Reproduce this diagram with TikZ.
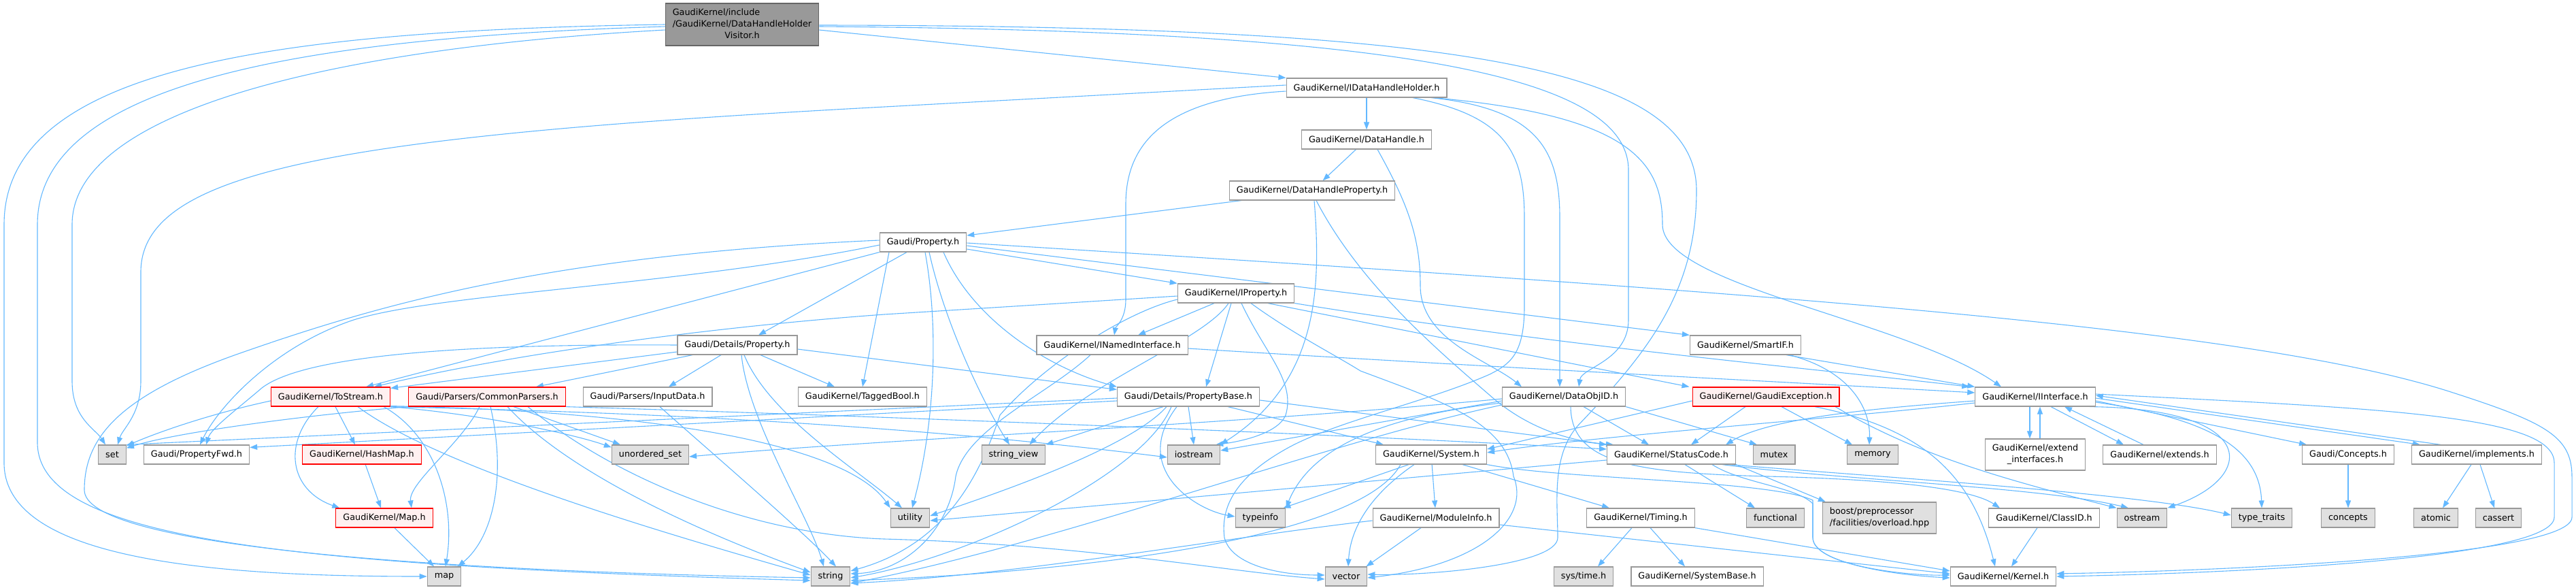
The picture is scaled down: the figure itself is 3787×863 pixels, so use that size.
\documentclass[tikz,border=0pt]{standalone}
\usepackage{fontspec}
\newfontfamily\doxyfont{DejaVu Sans}
\usetikzlibrary{arrows.meta,backgrounds}
\definecolor{edgeblue}{HTML}{63B8FF}
\definecolor{nodegray}{HTML}{999999}
\definecolor{sysfill}{HTML}{E0E0E0}
\definecolor{redfill}{HTML}{FFF0F0}
\definecolor{rootfill}{HTML}{999999}
\definecolor{rootdraw}{HTML}{666666}
\newcommand{\lastcentered}[2]{\begin{tabular}{@{}l@{}}#1\\\multicolumn{1}{@{}c@{}}{#2}\end{tabular}}
\begin{document}
\begin{tikzpicture}[
    x=1pt, y=-1pt,
    every node/.style={font=\doxyfont\fontsize{12.8}{17}\selectfont},
    hdr/.style={rectangle, draw=nodegray, fill=white, line width=1.2pt,
                minimum height=28pt, inner xsep=10.5pt, inner ysep=3pt},
    syshdr/.style={hdr, fill=sysfill},
    redhdr/.style={hdr, draw=red, fill=redfill},
    roothdr/.style={hdr, draw=rootdraw, fill=rootfill},
    tall/.style={inner ysep=6pt},
    dep/.style={-{Triangle[length=11pt,width=8pt]}, draw=edgeblue, line width=1.1pt},
]
    \useasboundingbox (0,0) rectangle (3787,863);
    \node[roothdr, inner ysep=5.5pt] (root) at (1091,36) {\begin{tabular}{@{}l@{}}GaudiKernel/include\\/GaudiKernel/DataHandleHolder\\\multicolumn{1}{@{}c@{}}{Visitor.h}\end{tabular}};
    \node[hdr] (idhh) at (2009,129) {GaudiKernel/IDataHandleHolder.h};
    \node[hdr] (dhandle) at (2009,205) {GaudiKernel/DataHandle.h};
    \node[hdr] (dhprop) at (1929,280) {GaudiKernel/DataHandleProperty.h};
    \node[hdr] (prop) at (1357,356) {Gaudi/Property.h};
    \node[hdr] (iprop) at (1817,431) {GaudiKernel/IProperty.h};
    \node[hdr] (detprop) at (1084,507) {Gaudi/Details/Property.h};
    \node[hdr] (inamed) at (1635,507) {GaudiKernel/INamedInterface.h};
    \node[hdr] (smartif) at (2566,507) {GaudiKernel/SmartIF.h};
    \node[redhdr] (tostream) at (486,583) {GaudiKernel/ToStream.h};
    \node[redhdr] (parsers) at (716,583) {Gaudi/Parsers/CommonParsers.h};
    \node[hdr] (inputdata) at (952,583) {Gaudi/Parsers/InputData.h};
    \node[hdr] (taggedbool) at (1268,583) {GaudiKernel/TaggedBool.h};
    \node[hdr] (propbase) at (1747,583) {Gaudi/Details/PropertyBase.h};
    \node[hdr] (dataobjid) at (2299,583) {GaudiKernel/DataObjID.h};
    \node[redhdr] (gexcept) at (2596,583) {GaudiKernel/GaudiException.h};
    \node[hdr] (iiface) at (2992,583) {GaudiKernel/IInterface.h};
    \node[syshdr] (set) at (165,668) {set};
    \node[hdr] (propfwd) at (289,668) {Gaudi/PropertyFwd.h};
    \node[redhdr] (hashmap) at (532,668) {GaudiKernel/HashMap.h};
    \node[syshdr] (uset) at (956,668) {unordered\_set};
    \node[syshdr] (strview) at (1490,668) {string\_view};
    \node[syshdr] (iostream) at (1755,668) {iostream};
    \node[hdr] (system) at (2104,668) {GaudiKernel/System.h};
    \node[hdr] (status) at (2457,668) {GaudiKernel/StatusCode.h};
    \node[syshdr] (mutex) at (2608,668) {mutex};
    \node[syshdr] (memory) at (2753,668) {memory};
    \node[hdr, tall] (extiface) at (2992,668) {\lastcentered{GaudiKernel/extend}{\_interfaces.h}};
    \node[hdr] (extends) at (3175,668) {GaudiKernel/extends.h};
    \node[hdr] (gconcepts) at (3452,668) {Gaudi/Concepts.h};
    \node[hdr] (implements) at (3641,668) {GaudiKernel/implements.h};
    \node[redhdr] (gmap) at (565,761) {GaudiKernel/Map.h};
    \node[syshdr] (utility) at (1338,761) {utility};
    \node[syshdr] (typeinfo) at (1853,761) {typeinfo};
    \node[hdr] (modinfo) at (2111,761) {GaudiKernel/ModuleInfo.h};
    \node[hdr] (timing) at (2412,761) {GaudiKernel/Timing.h};
    \node[syshdr] (functional) at (2610,761) {functional};
    \node[syshdr, tall] (boost) at (2763,761) {\lastcentered{boost/preprocessor}{/facilities/overload.hpp}};
    \node[hdr] (classid) at (3005,761) {GaudiKernel/ClassID.h};
    \node[syshdr] (ostream) at (3149,761) {ostream};
    \node[syshdr] (typetraits) at (3325,761) {type\_traits};
    \node[syshdr] (concepts) at (3452,761) {concepts};
    \node[syshdr] (atomic) at (3581,761) {atomic};
    \node[syshdr] (cassert) at (3673,761) {cassert};
    \node[syshdr] (map) at (653,847) {map};
    \node[syshdr] (string) at (1221,847) {string};
    \node[syshdr] (vector) at (1979,847) {vector};
    \node[syshdr] (systime) at (2328,847) {sys/time.h};
    \node[hdr] (sysbase) at (2495,847) {GaudiKernel/SystemBase.h};
    \node[hdr] (kernel) at (2945,847) {GaudiKernel/Kernel.h};
    \begin{pgfonlayer}{background}
    \draw[dep] ([yshift=-8pt]root.east) -- (idhh.north west);
    \draw[dep] ([yshift=-3pt]root.east) .. controls (2050,45) and (2394,110) .. (2394,250) -- (2394,470) .. controls (2394,530) and (2325,540) .. ([xshift=22pt]dataobjid.north);
    \draw[dep] ([yshift=-1pt]root.east) .. controls (2150,38) and (2494,100) .. (2494,280) .. controls (2494,430) and (2420,520) .. (2320,625) .. controls (2280,670) and (2290,740) .. (2290,790) .. controls (2290,830) and (2100,846) .. ([yshift=3pt]vector.east);
    \draw[dep] (root.west) .. controls (400,45) and (6,100) .. (6,330) -- (6,680) .. controls (6,820) and (300,847) .. (map.west);
    \draw[dep] ([yshift=-3pt]root.west) .. controls (450,55) and (55,120) .. (55,330) -- (55,650) .. controls (55,790) and (400,830) .. ([yshift=-6pt]string.west);
    \draw[dep] ([yshift=-8pt]root.west) .. controls (500,70) and (106,160) .. (106,330) -- (106,560) .. controls (106,615) and (140,630) .. ([xshift=-10pt]set.north);
    \draw[dep] (idhh) -- (dhandle);
    \draw[dep] ([yshift=-5pt]idhh.west) .. controls (1700,145) and (1655,220) .. (1655,300) -- (1655,440) .. controls (1655,470) and (1640,480) .. ([xshift=3pt]inamed.north);
    \draw[dep] ([yshift=4pt]idhh.west) -- (1300,157) .. controls (500,200) and (207,250) .. (207,400) -- (207,560) .. controls (207,610) and (180,630) .. ([xshift=8pt]set.north);
    \draw[dep] ([xshift=68pt]idhh.south) .. controls (2210,170) and (2241,220) .. (2241,320) -- (2241,450) .. controls (2241,520) and (2220,535) .. (2190,550) .. controls (2100,590) and (1960,620) .. (1890,660) .. controls (1810,705) and (1795,750) .. (1800,790) .. controls (1810,830) and (1880,845) .. ([yshift=2pt]vector.west);
    \draw[dep] ([xshift=95pt]idhh.south) .. controls (2260,160) and (2293,220) .. (2293,320) -- ([xshift=-6pt]dataobjid.north);
    \draw[dep] ([xshift=99pt]idhh.south) .. controls (2400,170) and (2444,240) .. (2444,330) .. controls (2444,420) and (2800,470) .. ([xshift=-50pt]iiface.north);
    \draw[dep] (dhandle) -- (dhprop);
    \draw[dep] ([xshift=16pt]dhandle.south) .. controls (2070,300) and (2088,350) .. (2088,420) .. controls (2088,500) and (2190,530) .. ([xshift=-62pt]dataobjid.north);
    \draw[dep] ([xshift=-104pt]dhprop.south) -- ([yshift=10pt]prop.east);
    \draw[dep] ([xshift=3pt]dhprop.south) .. controls (1942,420) and (1940,560) .. (iostream.north east);
    \draw[dep] ([xshift=6pt]dhprop.south) .. controls (2000,420) and (2120,520) .. (2195,585) .. controls (2260,640) and (2330,650) .. ([xshift=10pt]status.north west);
    \draw[dep] ([yshift=-10pt]prop.east) -- (iprop.north west);
    \draw[dep] ([yshift=-5pt]prop.east) -- (smartif.north west);
    \draw[dep] ([yshift=-1pt]prop.east) .. controls (2600,430) and (3300,480) .. (3600,575) .. controls (3740,620) and (3781,640) .. (3781,700) -- (3781,760) .. controls (3781,815) and (3300,838) .. ([yshift=4pt]kernel.east);
    \draw[dep] ([xshift=-24pt]prop.south) -- ([xshift=31pt]detprop.north);
    \draw[dep] (prop.south west) -- ([xshift=-36pt]tostream.north east);
    \draw[dep] ([xshift=-50pt]prop.south) -- (taggedbool.north);
    \draw[dep] ([xshift=30pt]prop.south) .. controls (1430,470) and (1540,540) .. (propbase.north west);
    \draw[dep] ([xshift=3pt]prop.south) .. controls (1380,480) and (1375,620) .. ([xshift=3pt]utility.north);
    \draw[dep] ([xshift=9pt]prop.south) .. controls (1390,480) and (1450,600) .. ([xshift=-6pt]strview.north);
    \draw[dep] ([yshift=-4pt]prop.west) .. controls (1000,420) and (650,430) .. (520,470) .. controls (400,510) and (320,600) .. ([xshift=5pt]propfwd.north);
    \draw[dep] ([yshift=3pt]prop.west) .. controls (800,375) and (550,450) .. (350,520) .. controls (180,580) and (124,640) .. (124,720) .. controls (124,800) and (600,838) .. ([yshift=-2pt]string.west);
    \draw[dep] ([xshift=-32pt]iprop.south) -- ([xshift=38pt]inamed.north);
    \draw[dep] ([xshift=-7pt]iprop.south) -- ([xshift=26pt]propbase.north);
    \draw[dep] ([yshift=-4pt]iprop.west) -- (1300,462) .. controls (1050,480) and (750,520) .. ([xshift=-24pt]tostream.north east);
    \draw[dep] ([yshift=-9pt]iprop.west) .. controls (1650,460) and (1530,540) .. (1470,610) .. controls (1440,700) and (1390,800) .. ([yshift=8pt]string.east);
    \draw[dep] ([xshift=8pt]iprop.south) .. controls (1860,520) and (1905,560) .. (1890,610) .. controls (1880,635) and (1830,648) .. ([xshift=-7pt]iostream.north east);
    \draw[dep] ([xshift=22pt]iprop.south) .. controls (1900,490) and (1960,520) .. (2000,545) .. controls (2120,590) and (2215,620) .. (2225,700) .. controls (2250,760) and (2180,830) .. ([yshift=-2pt]vector.east);
    \draw[dep] ([xshift=47pt]iprop.south) -- ([xshift=-4pt]gexcept.north west);
    \draw[dep] (iprop.south east) .. controls (2300,510) and (2700,545) .. ([xshift=-8pt]iiface.north west);
    \draw[dep] ([xshift=-11pt]iprop.south) .. controls (1770,500) and (1600,560) .. ([xshift=-24pt]strview.north east);
    \draw[dep] ([yshift=-5pt]inamed.east) .. controls (2200,540) and (2600,560) .. ([yshift=6pt]iiface.west);
    \draw[dep] ([xshift=-32pt]inamed.south) .. controls (1540,580) and (1420,630) .. (1405,700) .. controls (1395,780) and (1330,840) .. ([yshift=4pt]string.east);
    \draw[dep] ([xshift=60pt]smartif.south) -- (iiface.north west);
    \draw[dep] ([xshift=65pt]smartif.south) .. controls (2720,545) and (2750,600) .. ([xshift=-5pt]memory.north);
    \draw[dep] (detprop.west) .. controls (700,505) and (450,520) .. (385,570) .. controls (350,600) and (310,630) .. ([xshift=14pt]propfwd.north);
    \draw[dep] ([yshift=-10pt]detprop.west) -- ([yshift=-2pt]tostream.north east);
    \draw[dep] ([xshift=-66pt]detprop.south) -- ([xshift=72pt]parsers.north);
    \draw[dep] ([xshift=-24pt]detprop.south) -- ([xshift=31pt]inputdata.north);
    \draw[dep] ([xshift=34pt]detprop.south) -- ([xshift=-41pt]taggedbool.north);
    \draw[dep] ([yshift=-6pt]detprop.east) -- ([yshift=-4pt]propbase.north west);
    \draw[dep] ([xshift=6pt]detprop.south) .. controls (1100,620) and (1190,760) .. ([xshift=-10pt]string.north);
    \draw[dep] ([xshift=10pt]detprop.south) .. controls (1130,610) and (1260,690) .. ([xshift=-12pt]utility.north);
    \draw[dep] ([yshift=-6pt]tostream.west) .. controls (300,610) and (220,640) .. ([yshift=-2pt]set.north east);
    \draw[dep] ([xshift=7pt]tostream.south) -- ([xshift=-10pt]hashmap.north);
    \draw[dep] ([xshift=-18pt]tostream.south) .. controls (415,650) and (425,720) .. ([xshift=6pt]gmap.north west);
    \draw[dep] ([xshift=78pt]tostream.south) .. controls (640,640) and (670,740) .. ([xshift=2pt]map.north);
    \draw[dep] ([xshift=40pt]tostream.south) .. controls (650,690) and (1000,790) .. ([yshift=2pt]string.west);
    \draw[dep] (tostream.south east) .. controls (720,610) and (850,640) .. ([yshift=-4pt]uset.north west);
    \draw[dep] (tostream.south east) .. controls (900,605) and (1300,620) .. ([yshift=-4pt]iostream.west);
    \draw[dep] ([yshift=1pt]tostream.south east) .. controls (1000,605) and (1250,660) .. (utility.north west);
    \draw[dep] (parsers.south west) .. controls (450,610) and (260,635) .. ([yshift=-5pt]set.north east);
    \draw[dep] ([xshift=-11pt]parsers.south) .. controls (680,650) and (600,710) .. ([xshift=40pt]gmap.north);
    \draw[dep] ([xshift=5pt]parsers.south) .. controls (745,700) and (725,790) .. ([xshift=20pt]map.north);
    \draw[dep] ([xshift=30pt]parsers.south) .. controls (850,710) and (1080,800) .. ([yshift=6pt]string.west);
    \draw[dep] ([xshift=39pt]parsers.south) -- ([xshift=-44pt]uset.north);
    \draw[dep] (parsers.south east) .. controls (1400,615) and (2000,640) .. ([yshift=8pt]status.west);
    \draw[dep] ([xshift=60pt]parsers.south) .. controls (900,700) and (1100,785) .. (1300,792) .. controls (1600,800) and (1800,840) .. ([yshift=-4pt]vector.west);
    \draw[dep] ([xshift=18pt]inputdata.south) .. controls (1040,660) and (1180,780) .. ([xshift=8pt]string.north);
    \draw[dep] (hashmap) -- ([xshift=-5pt]gmap.north);
    \draw[dep] (gmap) -- (map);
    \draw[dep] ([yshift=-2pt]propbase.west) -- (set.north east);
    \draw[dep] ([yshift=-6pt]propbase.west) -- ([yshift=-4pt]propfwd.north east);
    \draw[dep] ([xshift=-37pt]propbase.south) -- (strview.north east);
    \draw[dep] ([xshift=-32pt]propbase.south) .. controls (1660,660) and (1450,730) .. ([yshift=3pt]utility.east);
    \draw[dep] ([xshift=-25pt]propbase.south) .. controls (1680,700) and (1420,820) .. ([yshift=-2pt]string.east);
    \draw[dep] ([xshift=-17pt]propbase.south) .. controls (1660,690) and (1760,750) .. ([yshift=2pt]typeinfo.west);
    \draw[dep] (propbase.south) -- (iostream.north);
    \draw[dep] ([xshift=58pt]propbase.south) -- ([xshift=-70pt]system.north);
    \draw[dep] ([yshift=-5pt]propbase.east) -- (status.north west);
    \draw[dep] ([xshift=29pt]dataobjid.south) -- ([xshift=-33pt]status.north);
    \draw[dep] ([xshift=10pt]dataobjid.south) .. controls (2310,680) and (2400,695) .. (2600,700) .. controls (2800,705) and (2900,720) .. ([xshift=-65pt]classid.north);
    \draw[dep] ([yshift=-6pt]dataobjid.west) -- ([yshift=6pt]iostream.east);
    \draw[dep] ([yshift=-9pt]dataobjid.west) .. controls (2050,610) and (1930,650) .. (typeinfo.north east);
    \draw[dep] ([yshift=-12pt]dataobjid.west) .. controls (1950,650) and (1550,800) .. ([yshift=-10pt]string.east);
    \draw[dep] ([yshift=-3pt]dataobjid.west) .. controls (1800,625) and (1300,645) .. ([yshift=-3pt]uset.east);
    \draw[dep] (dataobjid.south east) -- ([xshift=-25pt]mutex.north);
    \draw[dep] ([xshift=-30pt]gexcept.south) -- ([xshift=29pt]status.north);
    \draw[dep] ([xshift=23pt]gexcept.south) -- ([xshift=-30pt]memory.north);
    \draw[dep] ([yshift=-6pt]gexcept.west) -- ([yshift=8pt]system.east);
    \draw[dep] ([xshift=72pt]gexcept.south) .. controls (2830,630) and (2900,700) .. ([xshift=-12pt]kernel.north);
    \draw[dep] ([xshift=102pt]gexcept.south) .. controls (2820,670) and (2950,705) .. (ostream.north west);
    \draw[dep] ([xshift=-8pt]iiface.south) -- ([xshift=-8pt]extiface.north);
    \draw[dep] ([xshift=7pt]extiface.north) -- ([xshift=7pt]iiface.south);
    \draw[dep] ([xshift=23pt]iiface.south) -- ([xshift=-53pt]extends.north);
    \draw[dep] ([xshift=-24pt]extends.north) -- ([xshift=43pt]iiface.south);
    \draw[dep] ([yshift=-6pt]iiface.east) -- ([xshift=-61pt]gconcepts.north);
    \draw[dep] ([yshift=-2pt]iiface.east) -- ([xshift=-83pt]implements.north);
    \draw[dep] ([xshift=-53pt]implements.north) -- ([yshift=2pt]iiface.east);
    \draw[dep] ([yshift=4pt]iiface.east) .. controls (3500,600) and (3755,610) .. (3755,680) -- (3755,760) .. controls (3755,820) and (3300,842) .. (kernel.east);
    \draw[dep] ([yshift=-8pt]iiface.east) .. controls (3250,615) and (3322,660) .. (typetraits.north);
    \draw[dep] ([xshift=80pt]iiface.south) .. controls (3320,600) and (3320,700) .. (ostream.north east);
    \draw[dep] ([yshift=-6pt]iiface.west) .. controls (2750,600) and (2600,615) .. ([xshift=-15pt]status.north east);
    \draw[dep] ([yshift=-9pt]iiface.west) .. controls (2700,615) and (2350,640) .. ([yshift=3pt]system.east);
    \draw[dep] (gconcepts) -- (concepts);
    \draw[dep] ([xshift=-8pt]implements.south) -- ([xshift=10pt]atomic.north);
    \draw[dep] ([xshift=5pt]implements.south) -- ([xshift=-6pt]cassert.north);
    \draw[dep] (status.south east) -- ([xshift=5pt]boost.north west);
    \draw[dep] ([xshift=20pt]status.south) -- ([xshift=-30pt]functional.north);
    \draw[dep] ([xshift=75pt]status.south) .. controls (2700,705) and (3000,715) .. ([xshift=-20pt]ostream.north);
    \draw[dep] ([xshift=85pt]status.south) .. controls (2750,700) and (3150,725) .. ([yshift=4pt]typetraits.west);
    \draw[dep] ([yshift=-8pt]status.west) -- ([yshift=-4pt]utility.east);
    \draw[dep] ([xshift=60pt]status.south) .. controls (2560,710) and (2640,715) .. (2665,740) -- (2665,790) .. controls (2665,830) and (2800,846) .. ([yshift=-2pt]kernel.west);
    \draw[dep] (system) -- (modinfo);
    \draw[dep] ([xshift=46pt]system.south) -- ([xshift=-46pt]timing.north);
    \draw[dep] ([xshift=-33pt]system.south) -- ([xshift=-4pt]typeinfo.north east);
    \draw[dep] ([xshift=-25pt]system.south) .. controls (2010,730) and (1985,780) .. ([xshift=3pt]vector.north);
    \draw[dep] ([xshift=-45pt]system.south) .. controls (2000,790) and (1600,840) .. ([yshift=-6pt]string.east);
    \draw[dep] (system.south east) .. controls (2300,705) and (2600,705) .. (2665,735) -- (2665,790) .. controls (2665,830) and (2800,846) .. ([yshift=2pt]kernel.west);
    \draw[dep] ([yshift=-4pt]modinfo.west) .. controls (1800,790) and (1500,845) .. ([yshift=-10pt]string.east);
    \draw[dep] ([xshift=-22pt]modinfo.south) -- ([xshift=-2pt]vector.north east);
    \draw[dep] ([yshift=-10pt]modinfo.east) -- ([yshift=4pt]kernel.west);
    \draw[dep] ([xshift=-13pt]timing.south) -- ([xshift=21pt]systime.north);
    \draw[dep] ([xshift=14pt]timing.south) -- ([xshift=-18pt]sysbase.north);
    \draw[dep] (timing.south east) -- ([yshift=8pt]kernel.west);
    \draw[dep] ([xshift=-10pt]classid.south) -- ([xshift=12pt]kernel.north);
    \end{pgfonlayer}
\end{tikzpicture}
\end{document}
